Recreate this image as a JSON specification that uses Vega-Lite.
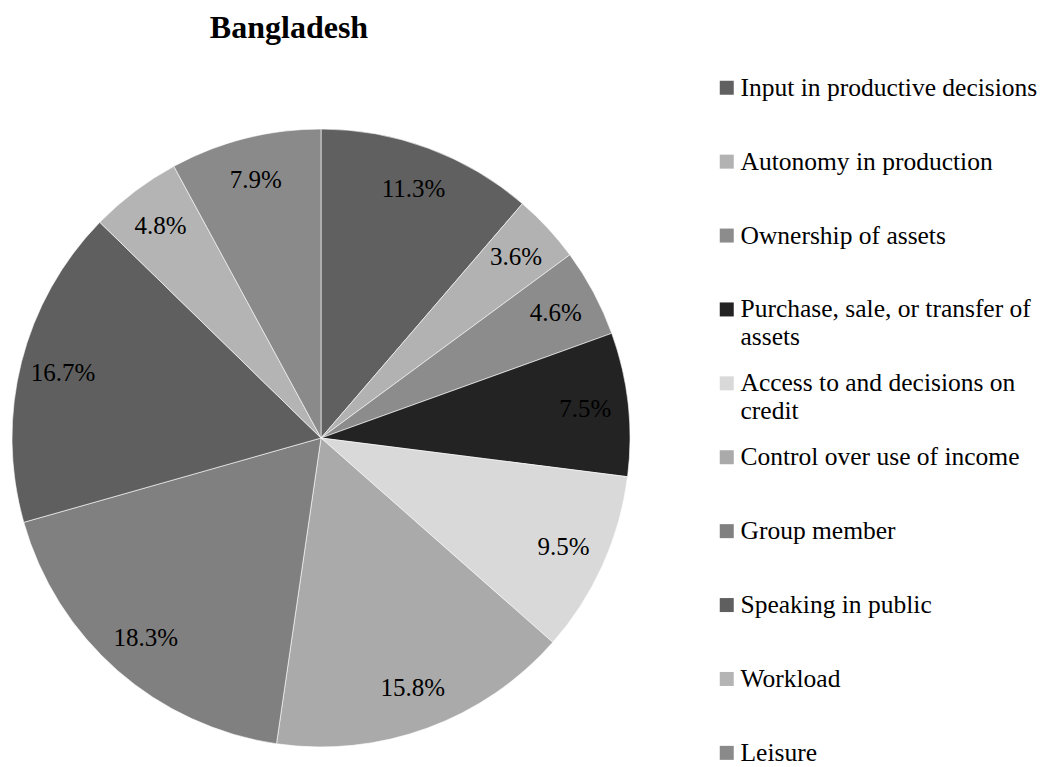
{
  "$schema": "https://vega.github.io/schema/vega-lite/v6.json",
  "autosize": {"type": "none"},
  "width": 640,
  "height": 620,
  "padding": {"left": 1, "top": 128, "right": 408, "bottom": 19},
  "background": "white",
  "title": {
    "text": "Bangladesh",
    "font": "Liberation Serif",
    "fontSize": 32,
    "fontWeight": "bold",
    "color": "black",
    "anchor": "middle",
    "dx": -32,
    "offset": 30
  },
  "data": {
    "values": [
      {"item": "Input in productive decisions", "share": 0.113, "order": 1},
      {"item": "Autonomy in production", "share": 0.036, "order": 2},
      {"item": "Ownership of assets", "share": 0.046, "order": 3},
      {"item": "Purchase, sale, or transfer of assets", "share": 0.075, "order": 4},
      {"item": "Access to and decisions on credit", "share": 0.095, "order": 5},
      {"item": "Control over use of income", "share": 0.158, "order": 6},
      {"item": "Group member", "share": 0.183, "order": 7},
      {"item": "Speaking in public", "share": 0.167, "order": 8},
      {"item": "Workload", "share": 0.048, "order": 9},
      {"item": "Leisure", "share": 0.079, "order": 10}
    ]
  },
  "encoding": {
    "theta": {"field": "share", "type": "quantitative", "stack": true},
    "order": {"field": "order", "type": "quantitative"}
  },
  "layer": [
    {
      "mark": {"type": "arc", "outerRadius": 309, "stroke": "#ffffff", "strokeWidth": 0.6},
      "encoding": {
        "color": {
          "field": "item",
          "type": "nominal",
          "scale": {
            "domain": ["Input in productive decisions", "Autonomy in production", "Ownership of assets", "Purchase, sale, or transfer of assets", "Access to and decisions on credit", "Control over use of income", "Group member", "Speaking in public", "Workload", "Leisure"],
            "range": ["#606060", "#b2b2b2", "#8c8c8c", "#232323", "#d9d9d9", "#aaaaaa", "#808080", "#5f5f5f", "#b4b4b4", "#8a8a8a"]
          },
          "legend": {
            "title": null,
            "orient": "none",
            "legendX": 713,
            "legendY": -53,
            "gridAlign": "all",
            "columns": 1,
            "symbolType": "square",
            "symbolSize": 196,
            "symbolStrokeWidth": 0,
            "symbolOpacity": 1,
            "labelFont": "Liberation Serif",
            "labelFontSize": 25.5,
            "labelColor": "black",
            "labelOffset": 1,
            "labelLimit": 400,
            "rowPadding": 19.9,
            "labelExpr": "datum.label == 'Purchase, sale, or transfer of assets' ? ['Purchase, sale, or transfer of', 'assets'] : datum.label == 'Access to and decisions on credit' ? ['Access to and decisions on', 'credit'] : datum.label"
          }
        }
      }
    },
    {
      "mark": {"type": "text", "radius": 266, "font": "Liberation Serif", "fontSize": 25, "color": "black"},
      "encoding": {
        "text": {"field": "share", "type": "quantitative", "format": ".1%"}
      }
    }
  ]
}
